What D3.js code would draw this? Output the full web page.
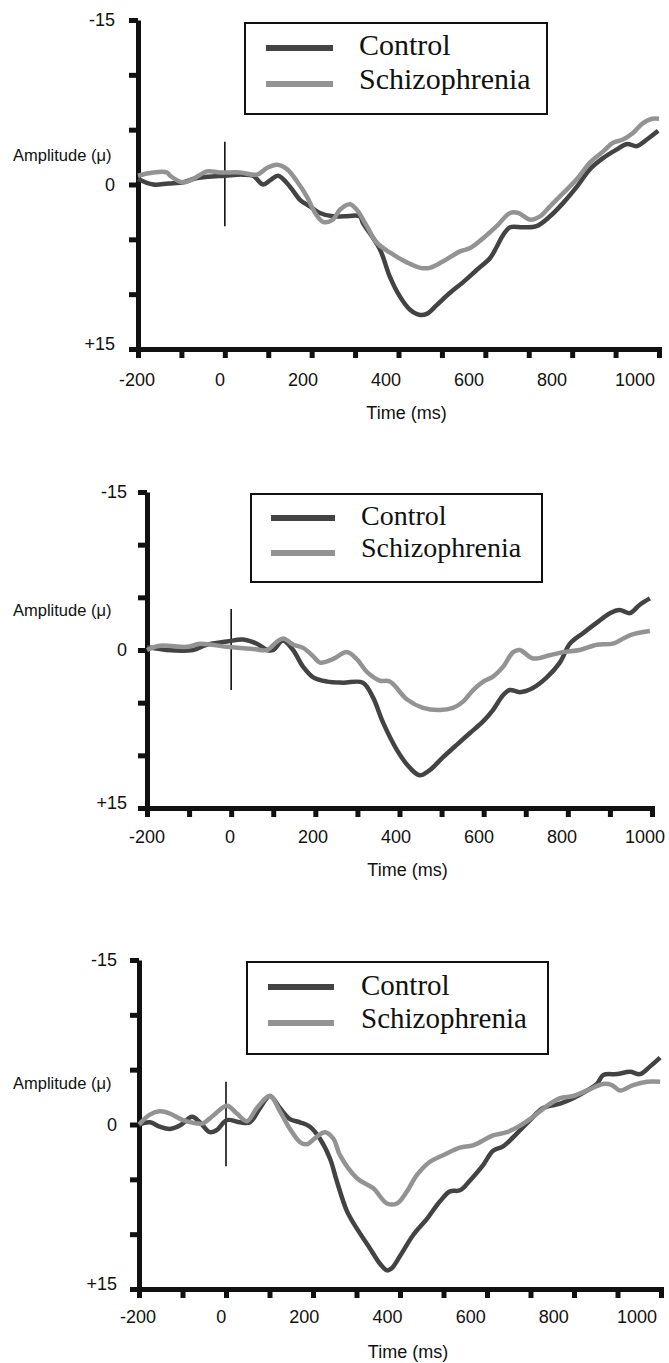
<!DOCTYPE html>
<html>
<head>
<meta charset="utf-8">
<script src="https://cdn.jsdelivr.net/npm/d3@7"></script>
<style>
  body { margin: 0; background: #fff; }
  svg { display: block; }
  .lab { font-family: "Liberation Sans", Arial, sans-serif; fill: #111; }
  .leg { font-family: "Liberation Serif", "Times New Roman", serif; fill: #111; }
</style>
</head>
<body>
<svg id="chart" width="669" height="1363"></svg>
<script>

// ---- data (time in ms, amplitude in µV; positive is plotted downward) ----
let xTickValues = [-200, -100, 0, 100, 200, 300, 400, 500, 600, 700, 800, 900, 1000];
let xLabelValues = [-200, 0, 200, 400, 600, 800, 1000];
let yTickValues = [-15, -10, -5, 0, 5, 10, 15];
let yLabelValues = [-15, 0, 15];
let seriesNames = ["Control", "Schizophrenia"];

let ctrl1T = [-200,-165,-130,-96,-73,-40,0,40,65,88,105,123,150,173,196,219,249,275,311,318,357,380,403,426,450,465,488,518,549,580,611,626,641,657,687,718,749,779,811,841,871,903,926,949,972,998];
let ctrl1V = [-0.5,0,-0.1,-0.2,-0.5,-0.7,-0.8,-0.9,-0.8,0,-0.4,-0.8,0.2,1.4,2.0,2.6,2.9,2.9,2.9,3.5,5.9,8.4,10.2,11.4,11.9,11.8,11.0,9.9,8.9,7.8,6.7,5.7,4.6,3.9,3.9,3.8,2.9,1.7,0.2,-1.4,-2.4,-3.2,-3.7,-3.5,-4.1,-4.9];
let schz1T = [-200,-165,-133,-126,-96,-73,-41,-11,35,74,97,120,143,166,189,208,226,249,265,288,304,327,350,380,419,450,472,503,542,565,595,626,657,676,703,726,749,779,811,841,871,894,917,940,963,984,1000];
let schz1V = [-0.8,-1.1,-1.1,-0.8,-0.2,-0.5,-1.2,-1.1,-1.1,-0.9,-1.5,-1.8,-1.4,-0.3,1.1,2.6,3.4,3.2,2.3,1.8,2.3,3.8,5.3,6.2,7.1,7.6,7.6,7.0,6.1,5.8,4.9,3.8,2.6,2.6,3.2,2.9,2.0,0.8,-0.5,-2.0,-3.0,-3.8,-4.1,-4.7,-5.6,-6.0,-6.0];

let ctrl2T = [-200,-153,-91,-58,-10,28,61,85,100,123,147,171,195,228,266,313,337,361,394,425,448,472,503,536,567,598,622,646,662,686,717,750,781,805,836,869,900,923,947,971,995];
let ctrl2V = [-0.3,0,0,-0.5,-0.8,-1.0,-0.6,0,0,-0.9,0,1.6,2.6,3.0,3.1,3.1,4.5,6.9,9.5,11.2,11.9,11.4,10.2,9.0,7.9,6.8,5.7,4.3,3.8,4.0,3.6,2.6,1.2,-0.6,-1.6,-2.6,-3.5,-3.8,-3.5,-4.3,-4.9];
let schz2T = [-200,-169,-105,-74,-10,52,85,109,124,148,171,195,211,240,275,299,323,353,377,418,456,496,527,551,575,599,623,646,670,686,717,757,788,828,869,907,947,995];
let schz2V = [0,-0.4,-0.3,-0.6,-0.3,-0.1,0,-0.8,-1.1,-0.5,-0.2,0.6,1.2,0.9,0.2,0.9,2.1,2.9,3.0,4.7,5.5,5.7,5.5,4.9,3.8,3.0,2.5,1.6,0.2,0,0.8,0.5,0.2,0,-0.5,-0.6,-1.4,-1.8];

let ctrl3T = [-200,-175,-152,-129,-106,-78,-60,-37,-21,2,32,55,78,101,124,147,170,193,216,239,255,278,301,331,354,370,381,400,430,462,492,515,538,561,591,614,637,669,699,729,768,798,830,853,867,899,929,952,975,998];
let ctrl3V = [0,-0.2,0.2,0.4,0.1,-0.7,-0.2,0.7,0.5,-0.4,-0.2,-0.2,-1.5,-2.6,-1.5,-0.5,-0.2,0.2,1.3,3.1,5.2,7.9,9.5,11.3,12.7,13.3,13.1,12.0,10.1,8.6,7.0,6.1,6.0,5.1,3.7,2.4,2.0,0.8,-0.4,-1.5,-1.9,-2.4,-3.1,-3.7,-4.5,-4.6,-4.8,-4.6,-5.3,-6.1];
let schz3T = [-200,-175,-152,-129,-99,-67,-53,-30,2,25,48,71,101,124,147,170,186,209,228,247,262,301,338,370,393,416,439,469,499,538,568,614,646,676,706,738,768,798,830,867,887,906,936,968,998];
let schz3V = [0,-0.9,-1.2,-1.0,-0.4,-0.1,-0.1,-0.8,-1.7,-1.0,-0.3,-1.5,-2.6,-1.2,0.4,1.6,1.8,1.1,0.7,1.3,2.8,4.9,5.8,7.2,7.2,6.1,4.6,3.4,2.8,2.1,1.9,1.0,0.7,0.1,-0.7,-1.7,-2.4,-2.6,-3.1,-3.7,-3.6,-3.1,-3.6,-3.9,-3.9];

// stimulus onset marker extent
let markerV = [-3.9, 3.8];

// ---- layout of the three panels ----
let panels = [
  { ctrlT: ctrl1T, ctrlV: ctrl1V, schzT: schz1T, schzV: schz1V,
    left: 138, right: 659, top: 20, bottom: 349, labL: 137, labR: 635,
    yLabX: 115, ampY: 155, xLabY: 386, timeY: 419,
    box: [245, 23, 547, 114], legX: [266, 333], legY: [48, 84], textX: 359, textY: [55, 89], font: 30 },
  { ctrlT: ctrl2T, ctrlV: ctrl2V, schzT: schz2T, schzV: schz2V,
    left: 147, right: 652, top: 492, bottom: 808, labL: 147, labR: 645,
    yLabX: 127, ampY: 610, xLabY: 843, timeY: 876,
    box: [251, 494, 542, 582], legX: [271, 335], legY: [518, 553], textX: 361, textY: [525, 557], font: 28 },
  { ctrlT: ctrl3T, ctrlV: ctrl3V, schzT: schz3T, schzV: schz3V,
    left: 139, right: 661, top: 960, bottom: 1289, labL: 138, labR: 637,
    yLabX: 117, ampY: 1083, xLabY: 1323, timeY: 1358,
    box: [247, 962, 548, 1054], legX: [268, 334], legY: [987, 1023], textX: 361, textY: [995, 1028], font: 29 }
];

let colors = ["#434343", "#939393"];

let svg = d3.select("#chart");

panels.forEach(function (p) {

  let x = d3.scaleLinear().domain([-200, 1000]).range([p.left, p.right]);
  let xLab = d3.scaleLinear().domain([-200, 1000]).range([p.labL, p.labR]);
  let y = d3.scaleLinear().domain([-15, 15]).range([p.top, p.bottom]);

  let g = svg.append("g");

  // y axis
  let yAxis = g.append("g")
      .attr("transform", "translate(" + p.left + ",0)")
      .call(d3.axisLeft(y).tickValues(yTickValues).tickSize(9).tickSizeOuter(0).tickFormat(""));
  yAxis.select(".domain").attr("stroke", "#111").attr("stroke-width", 5);
  yAxis.selectAll(".tick line").attr("stroke", "#111").attr("stroke-width", 5);

  // x axis
  let xAxis = g.append("g")
      .attr("transform", "translate(0," + p.bottom + ")")
      .call(d3.axisBottom(x).tickValues(xTickValues).tickSize(9).tickSizeOuter(0).tickFormat(""));
  xAxis.select(".domain").attr("stroke", "#111").attr("stroke-width", 5)
      .attr("stroke-linecap", "square");
  xAxis.selectAll(".tick line").attr("stroke", "#111").attr("stroke-width", 5);

  // x tick labels
  g.selectAll(".xl")
    .data(xLabelValues)
    .enter().append("text")
      .attr("class", "lab")
      .attr("x", d => xLab(d))
      .attr("y", p.xLabY)
      .attr("text-anchor", "middle")
      .style("font-size", "18px")
      .text(d => d);

  // y tick labels
  g.selectAll(".yl")
    .data(yLabelValues)
    .enter().append("text")
      .attr("class", "lab")
      .attr("x", p.yLabX)
      .attr("y", d => y(d) + (d === 15 ? -5 : 0))
      .attr("dy", "0.36em")
      .attr("text-anchor", "end")
      .style("font-size", "18px")
      .text(d => d > 0 ? "+" + d : d);

  g.append("text")
    .attr("class", "lab")
    .attr("x", 13)
    .attr("y", p.ampY)
    .attr("dy", "0.36em")
    .style("font-size", "16.5px")
    .text("Amplitude (\u03bc)");

  g.append("text")
    .attr("class", "lab")
    .attr("x", (p.left + p.right) / 2 + 8)
    .attr("y", p.timeY)
    .attr("text-anchor", "middle")
    .style("font-size", "18px")
    .text("Time (ms)");

  // onset marker
  g.append("line")
    .attr("x1", x(0)).attr("x2", x(0))
    .attr("y1", y(markerV[0])).attr("y2", y(markerV[1]))
    .attr("stroke", "#111")
    .attr("stroke-width", 1.6);

  // curves
  let line = d3.line()
      .x(d => x(d[0]))
      .y(d => y(d[1]))
      .curve(d3.curveCatmullRom.alpha(0.5));

  let ctrl = d3.zip(p.ctrlT, p.ctrlV);
  let schz = d3.zip(p.schzT, p.schzV);

  g.append("path").datum(ctrl)
    .attr("fill", "none")
    .attr("stroke", colors[0])
    .attr("stroke-width", 4.5)
    .attr("stroke-linejoin", "round")
    .attr("d", line);

  g.append("path").datum(schz)
    .attr("fill", "none")
    .attr("stroke", colors[1])
    .attr("stroke-width", 4.5)
    .attr("stroke-linejoin", "round")
    .attr("d", line);

  // legend
  g.append("rect")
    .attr("x", p.box[0]).attr("y", p.box[1])
    .attr("width", p.box[2] - p.box[0])
    .attr("height", p.box[3] - p.box[1])
    .attr("fill", "#fff")
    .attr("stroke", "#111")
    .attr("stroke-width", 2);

  seriesNames.forEach(function (name, i) {
    g.append("line")
      .attr("x1", p.legX[0]).attr("x2", p.legX[1])
      .attr("y1", p.legY[i]).attr("y2", p.legY[i])
      .attr("stroke", colors[i])
      .attr("stroke-width", 6);
    g.append("text")
      .attr("class", "leg")
      .attr("x", p.textX)
      .attr("y", p.textY[i])
      .style("font-size", p.font + "px")
      .text(name);
  });

});

</script>
</body>
</html>
